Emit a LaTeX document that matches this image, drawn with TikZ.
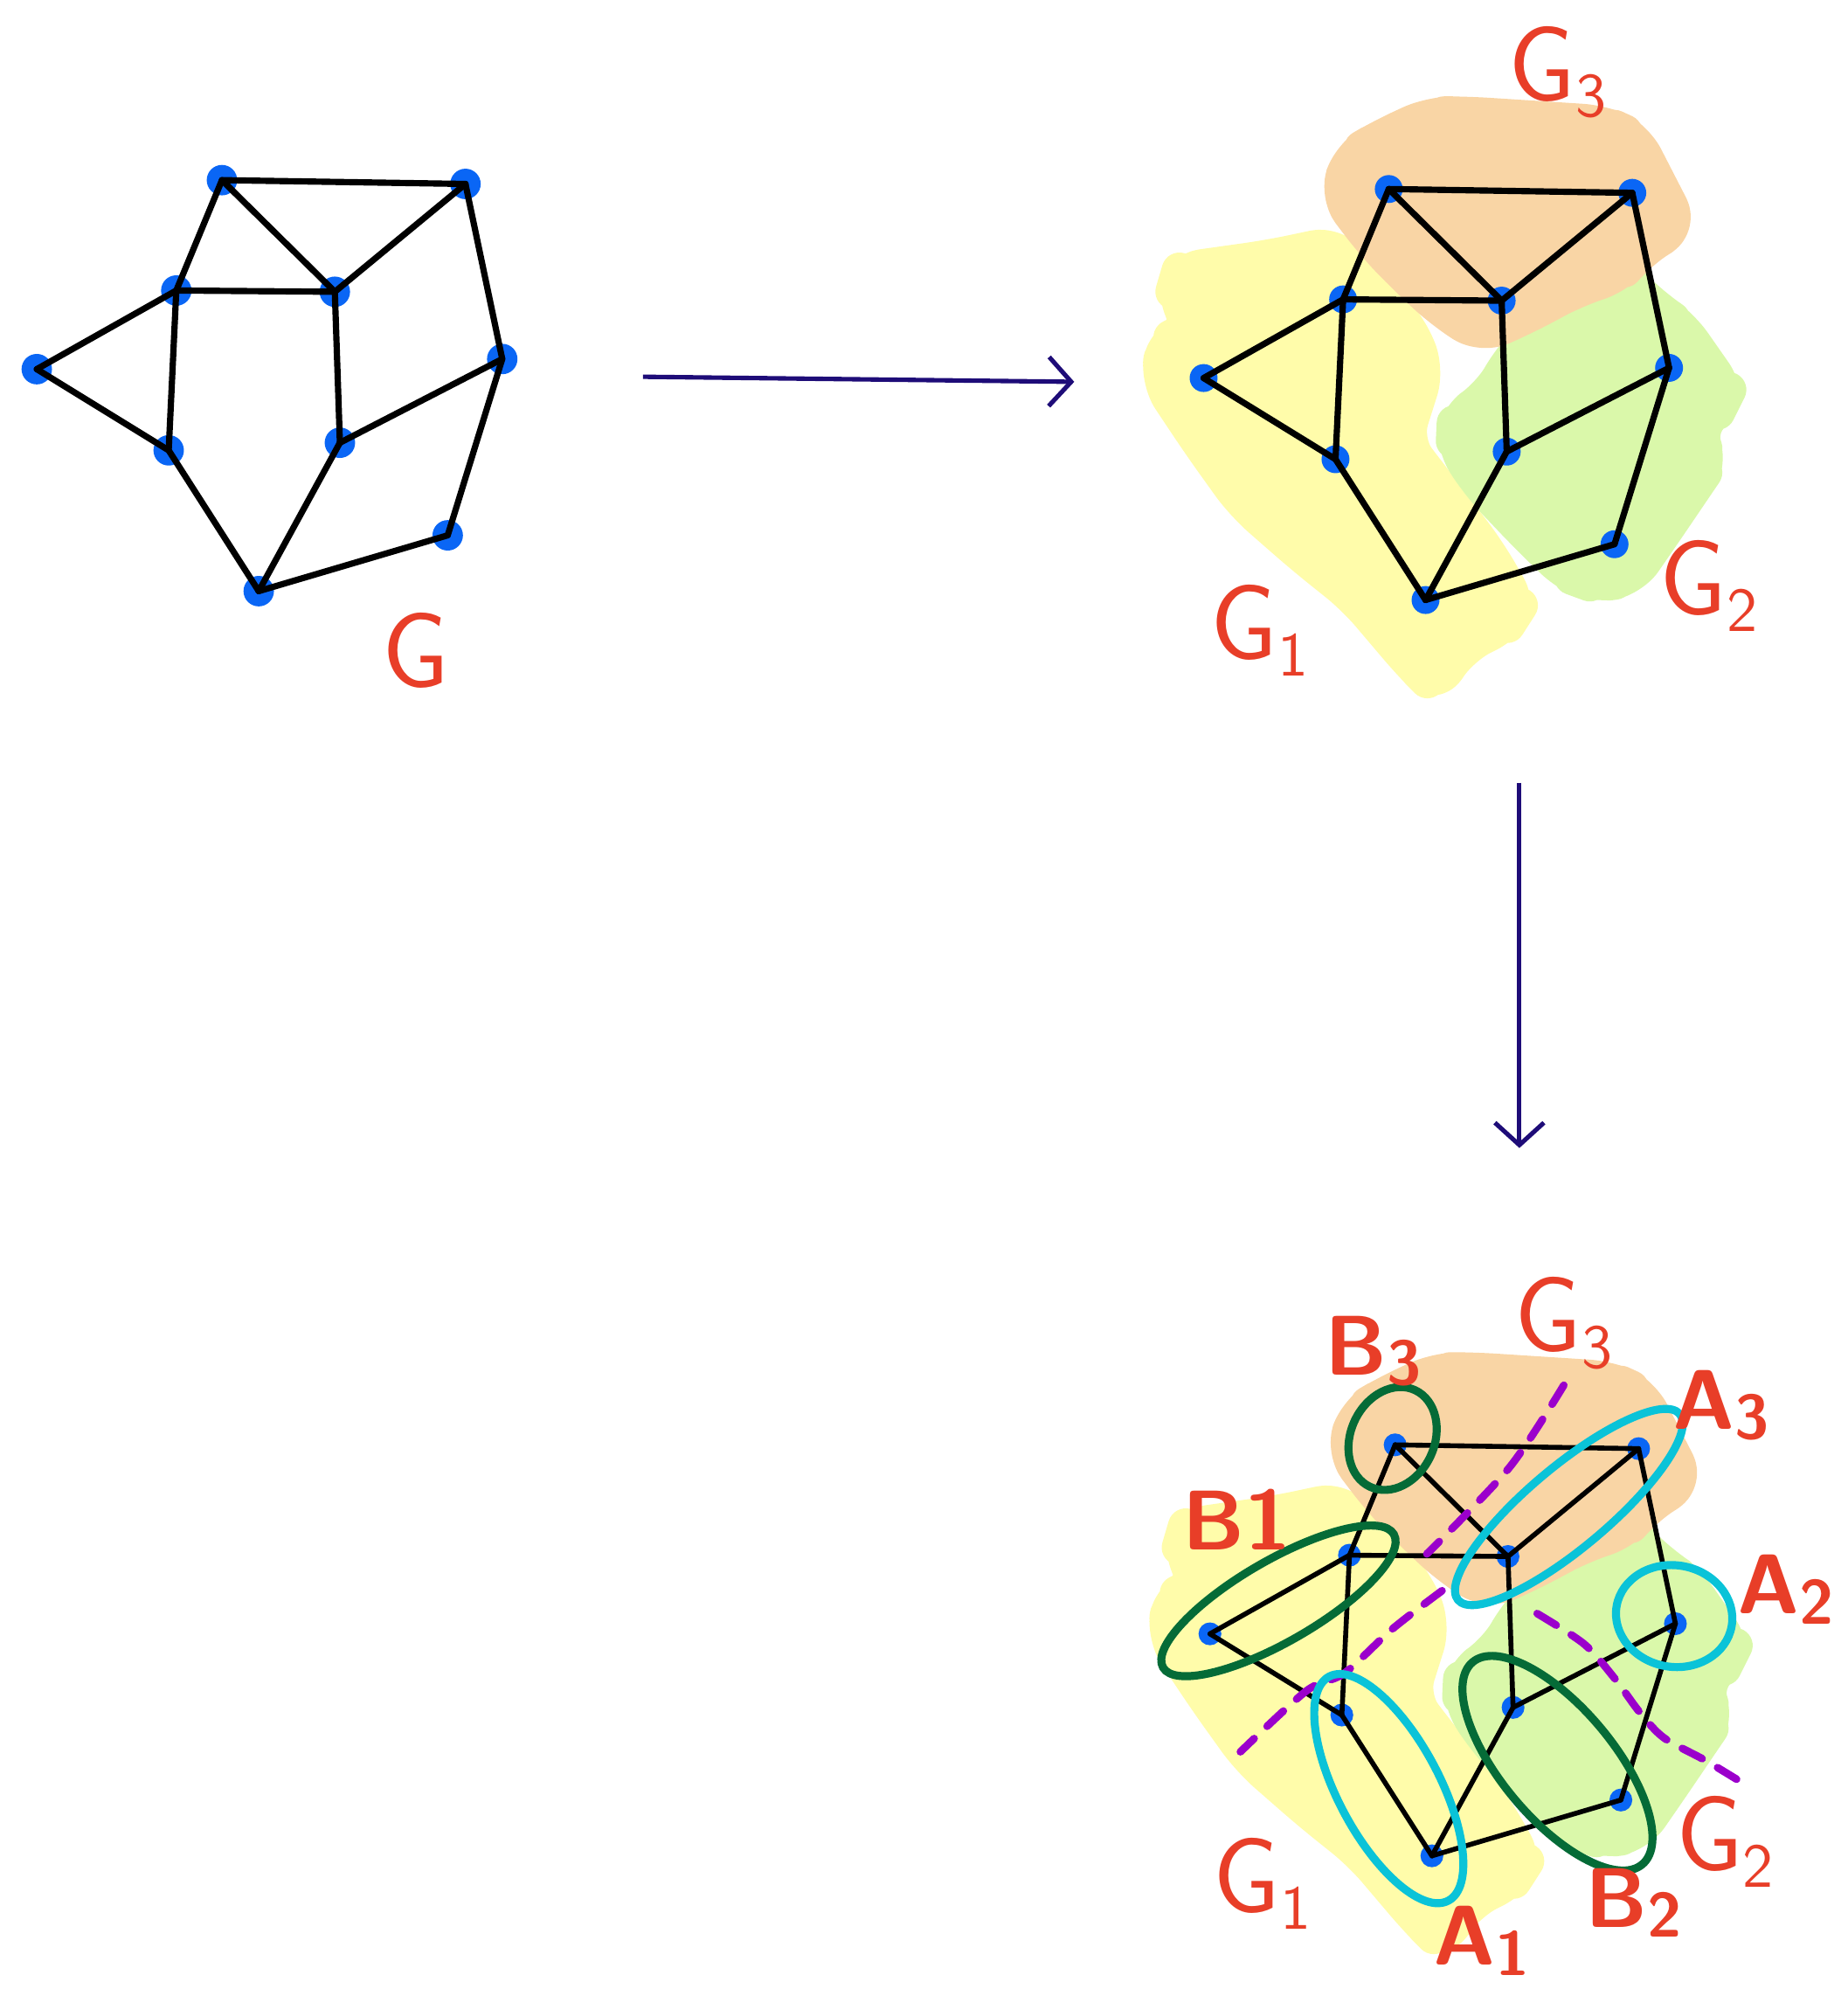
\documentclass[tikz,border=0pt]{standalone}
\usepackage{fontspec}
\usetikzlibrary{arrows.meta,shapes.geometric}
\definecolor{lred}{RGB}{232,62,40}
\definecolor{vblue}{RGB}{10,102,245}
\definecolor{navy}{RGB}{30,12,120}
\definecolor{shorange}{RGB}{249,213,165}
\definecolor{shyellow}{RGB}{255,252,170}
\definecolor{shgreen}{RGB}{218,248,170}
\definecolor{dkgreen}{RGB}{5,107,55}
\definecolor{cyanring}{RGB}{10,195,216}
\definecolor{sepcol}{RGB}{155,0,204}
\newcommand{\glab}[1]{G\raisebox{-0.35ex}{\fontsize{14}{14}\selectfont #1}}
\newcommand{\ablab}[2]{#1\raisebox{-0.25ex}{\fontsize{14}{14}\selectfont #2}}
\newcommand{\shadings}{%
 \filldraw[shadereg, fill=shyellow, draw=shyellow] (10,206) -- (81,196) -- (133,185) -- (151,207) -- (190,249) -- (205,284) -- (187,341) -- (217,380) -- (254,429) -- (278,471) -- (269,485) -- (233,503) -- (211,535) -- (193,517) -- (148,464) -- (108,432) -- (60,390) -- (27,344) -- (-7,293) -- (-2,261) -- (20,253) -- (5,223) -- cycle;
 \filldraw[shadereg, fill=shgreen, draw=shgreen] (227,323) -- (254,305) -- (272,274) -- (296,249) -- (323,235) -- (348,217) -- (363,214) -- (384,235) -- (405,249) -- (442,302) -- (435,316) -- (417,330) -- (429,358) -- (414,380) -- (393,411) -- (366,450) -- (336,454) -- (317,447) -- (284,415) -- (247,376) -- (226,344) -- cycle;
 \filldraw[shadereg, fill=shorange, draw=shorange] (134,147) -- (145,115) -- (169,101) -- (208,83) -- (236,83) -- (345,90) -- (369,101) -- (405,171) -- (372,192) -- (357,210) -- (323,221) -- (284,242) -- (248,258) -- (217,238) -- (187,210) -- (163,185) -- cycle;
}
\newcommand{\graphcopy}[3]{%
 \foreach \n/\px/\py in {1/175/142, 2/367/145, 3/139/229, 4/264/230, 5/29/291, 6/396/283, 7/133/355, 8/268/349, 9/353/422, 10/204/466}
   \node[vtx, minimum size=#2] (#1\n) at (\px,\py) {};
 \foreach \a/\b in {1/2,1/3,1/4,2/4,2/6,3/4,3/5,3/7,5/7,4/8,8/6,7/10,8/10,10/9,9/6}
   \draw[edge, line width=#3] (#1\a.center) -- (#1\b.center);
}
\begin{document}
\begin{tikzpicture}[x=0.01cm,y=-0.01cm,
  vtx/.style={circle, fill=vblue, inner sep=0pt},
  edge/.style={line cap=round, line join=round},
  lab/.style={text=lred, font=\sffamily\fontsize{24}{24}\selectfont, inner sep=0pt},
  ablab/.style={text=lred, font=\sffamily\bfseries\fontsize{19}{19}\selectfont, inner sep=0pt},
  ring/.style={ellipse, line width=1.8pt, inner sep=0pt},
  sepline/.style={draw=sepcol, line width=1.7pt, line cap=round, dash pattern=on 5pt off 4pt},
  flow/.style={draw=navy, line width=1pt, -{Straight Barb[length=5pt,width=11pt]}},
  shadereg/.style={line width=8pt, rounded corners=5pt, line join=round}]
\useasboundingbox (0,0) rectangle (1457,1568);
\begin{scope}
 \graphcopy{g}{0.24cm}{1.4pt}
\end{scope}
\begin{scope}[shift={(920,7)}]
 \shadings
 \graphcopy{h}{0.22cm}{1.4pt}
\end{scope}
\begin{scope}[shift={(925,997)}]
 \shadings
 \graphcopy{k}{0.18cm}{1.1pt}
\end{scope}
% separators
\draw[sepline] plot[smooth] coordinates {(1233,1092) (1190,1157) (1125,1225)};
\draw[sepline] plot[smooth] coordinates {(1137,1254) (1098,1284) (1060,1319) (1030,1333) (978,1381)};
\draw[sepline] plot[smooth] coordinates {(1212,1272) (1249,1296) (1273,1323) (1293,1350) (1312,1370) (1345,1388) (1378,1408)};
% rings
\node[ring, draw=dkgreen, minimum width=0.84cm, minimum height=0.66cm, rotate=65] (rB3) at (1098,1134) {};
\node[ring, draw=cyanring, minimum width=2.28cm, minimum height=0.64cm, rotate=40] (rA3) at (1237,1188) {};
\node[ring, draw=dkgreen, minimum width=2.10cm, minimum height=0.64cm, rotate=30] (rB1) at (1008,1262) {};
\node[ring, draw=cyanring, minimum width=0.92cm, minimum height=0.80cm, rotate=-10] (rA2) at (1320,1274) {};
\node[ring, draw=cyanring, minimum width=2.0cm, minimum height=0.80cm, rotate=-62] (rA1) at (1095,1410) {};
\node[ring, draw=dkgreen, minimum width=2.08cm, minimum height=0.88cm, rotate=-50] (rB2) at (1228,1390) {};
% arrows
\coordinate (ar1s) at (507,297);
\coordinate (ar1e) at (847,301);
\draw[flow] (ar1s) -- (ar1e);
\coordinate (ar2s) at (1198,617);
\coordinate (ar2e) at (1198,905);
\draw[flow] (ar2s) -- (ar2e);
% labels
\node[lab] (lG) at (328,513) {G};
\node[lab] (lG3) at (1228,57) {\glab{3}};
\node[lab] (lG1) at (993,497) {\glab{1}};
\node[lab] (lG2) at (1347,462) {\glab{2}};
\node[lab] (mG3) at (1233,1043) {\glab{3}};
\node[lab] (mG1) at (995,1485) {\glab{1}};
\node[lab] (mG2) at (1360,1452) {\glab{2}};
\node[ablab] (mB3) at (1083,1065) {\ablab{B}{3}};
\node[ablab] (mA3) at (1357,1108) {\ablab{A}{3}};
\node[ablab] (mB1) at (975,1198) {B1};
\node[ablab] (mA2) at (1408,1253) {\ablab{A}{2}};
\node[ablab] (mA1) at (1168,1530) {\ablab{A}{1}};
\node[ablab] (mB2) at (1288,1500) {\ablab{B}{2}};
\end{tikzpicture}
\end{document}
